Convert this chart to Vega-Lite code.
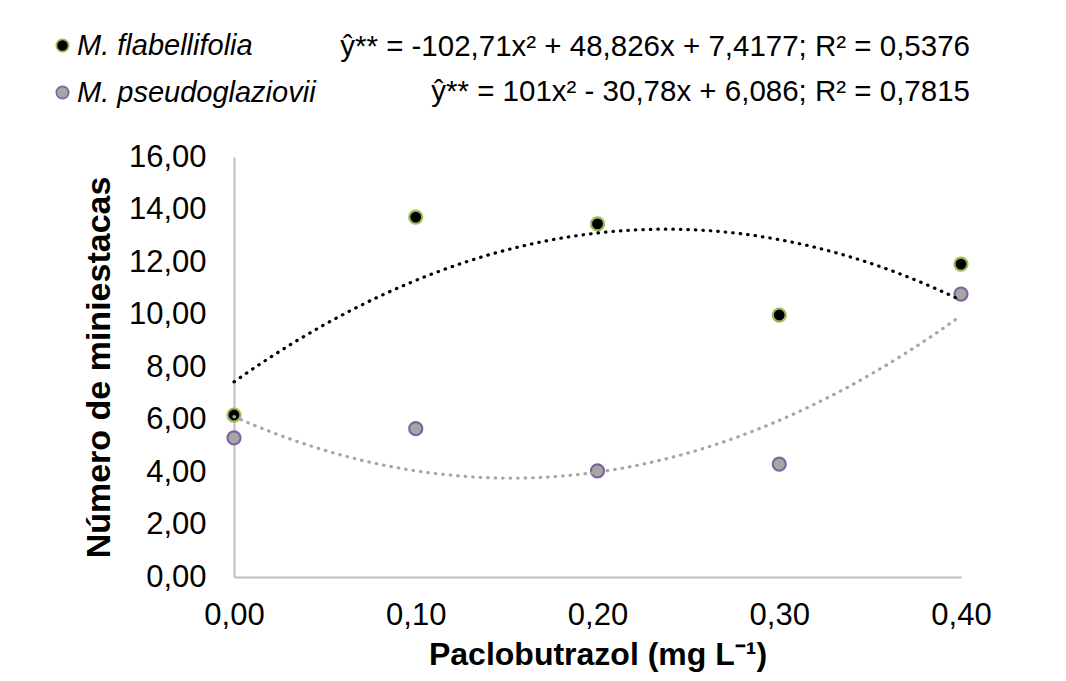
{
  "$schema": "https://vega.github.io/schema/vega-lite/v6.json",
  "width": 727,
  "height": 420,
  "autosize": {"type": "none"},
  "padding": {"left": 234, "top": 157, "right": 105, "bottom": 104},
  "background": "white",
  "config": {
    "font": "Liberation Sans",
    "view": {"stroke": null}
  },
  "title": {
    "text": "ŷ** = -102,71x² + 48,826x + 7,4177; R² = 0,5376",
    "subtitle": "ŷ** = 101x² - 30,78x + 6,086; R² = 0,7815",
    "anchor": "end",
    "frame": "group",
    "orient": "top",
    "dx": 9,
    "offset": -76,
    "fontSize": 29.5,
    "fontWeight": "normal",
    "color": "#000000",
    "subtitleFontSize": 29.5,
    "subtitleColor": "#000000",
    "subtitlePadding": 15,
    "font": "Liberation Sans",
    "subtitleFont": "Liberation Sans"
  },
  "data": {
    "values": [
      {"species": "M. flabellifolia", "dose": 0.0, "value": 6.17},
      {"species": "M. flabellifolia", "dose": 0.1, "value": 13.71},
      {"species": "M. flabellifolia", "dose": 0.2, "value": 13.45},
      {"species": "M. flabellifolia", "dose": 0.3, "value": 9.98},
      {"species": "M. flabellifolia", "dose": 0.4, "value": 11.92},
      {"species": "M. pseudoglaziovii", "dose": 0.0, "value": 5.30},
      {"species": "M. pseudoglaziovii", "dose": 0.1, "value": 5.65},
      {"species": "M. pseudoglaziovii", "dose": 0.2, "value": 4.04},
      {"species": "M. pseudoglaziovii", "dose": 0.3, "value": 4.30},
      {"species": "M. pseudoglaziovii", "dose": 0.4, "value": 10.78}
    ]
  },
  "encoding": {
    "x": {
      "field": "dose",
      "type": "quantitative",
      "scale": {"domain": [0, 0.4], "nice": false, "zero": false},
      "axis": {
        "title": "Paclobutrazol (mg L⁻¹)",
        "values": [0, 0.1, 0.2, 0.3, 0.4],
        "labelExpr": "replace(format(datum.value, '.2f'), '.', ',')",
        "grid": false,
        "ticks": false,
        "domainColor": "#bfbfbf",
        "domainWidth": 2,
        "labelFontSize": 31,
        "labelColor": "#000000",
        "labelPadding": 23,
        "labelFlush": false,
        "titleFontSize": 32,
        "titleFontWeight": "bold",
        "titleColor": "#000000",
        "titlePadding": 9
      }
    },
    "y": {
      "field": "value",
      "type": "quantitative",
      "scale": {"domain": [0, 16], "nice": false},
      "axis": {
        "title": "Número de miniestacas",
        "values": [0, 2, 4, 6, 8, 10, 12, 14, 16],
        "labelExpr": "replace(format(datum.value, '.2f'), '.', ',')",
        "grid": false,
        "ticks": false,
        "domainColor": "#bfbfbf",
        "domainWidth": 2,
        "labelFontSize": 31,
        "labelColor": "#000000",
        "labelPadding": 28,
        "titleFontSize": 34,
        "titleFontWeight": "bold",
        "titleColor": "#000000",
        "titlePadding": 12
      }
    }
  },
  "layer": [
    {
      "mark": {"type": "point", "filled": true, "size": 170, "strokeWidth": 2.2, "opacity": 1},
      "encoding": {
        "fill": {
          "field": "species",
          "type": "nominal",
          "scale": {"domain": ["M. flabellifolia", "M. pseudoglaziovii"], "range": ["#000000", "#a6a6a6"]},
          "legend": {
            "title": null,
            "orient": "none",
            "legendX": -186,
            "legendY": -126,
            "labelFontSize": 29,
            "labelFontStyle": "italic",
            "labelColor": "#000000",
            "labelFont": "Liberation Sans",
            "labelLimit": 400,
            "symbolType": "circle",
            "symbolSize": 150,
            "symbolStrokeWidth": 1.8,
            "rowPadding": 17,
            "labelOffset": 0
          }
        },
        "stroke": {
          "field": "species",
          "type": "nominal",
          "scale": {"domain": ["M. flabellifolia", "M. pseudoglaziovii"], "range": ["#9bbb59", "#8064a2"]},
          "legend": {
            "title": null,
            "orient": "none",
            "legendX": -186,
            "legendY": -126,
            "labelFontSize": 29,
            "labelFontStyle": "italic",
            "labelColor": "#000000",
            "labelFont": "Liberation Sans",
            "labelLimit": 400,
            "symbolType": "circle",
            "symbolSize": 150,
            "symbolStrokeWidth": 1.8,
            "rowPadding": 17,
            "labelOffset": 0
          }
        }
      }
    },
    {
      "transform": [
        {"regression": "value", "on": "dose", "groupby": ["species"], "method": "poly", "order": 2, "extent": [0, 0.4]}
      ],
      "mark": {"type": "line", "strokeDash": [0.5, 7], "strokeCap": "round", "strokeWidth": 3.2, "interpolate": "monotone"},
      "encoding": {
        "color": {
          "field": "species",
          "type": "nominal",
          "scale": {"domain": ["M. flabellifolia", "M. pseudoglaziovii"], "range": ["#000000", "#a6a6a6"]},
          "legend": null
        }
      }
    }
  ]
}
